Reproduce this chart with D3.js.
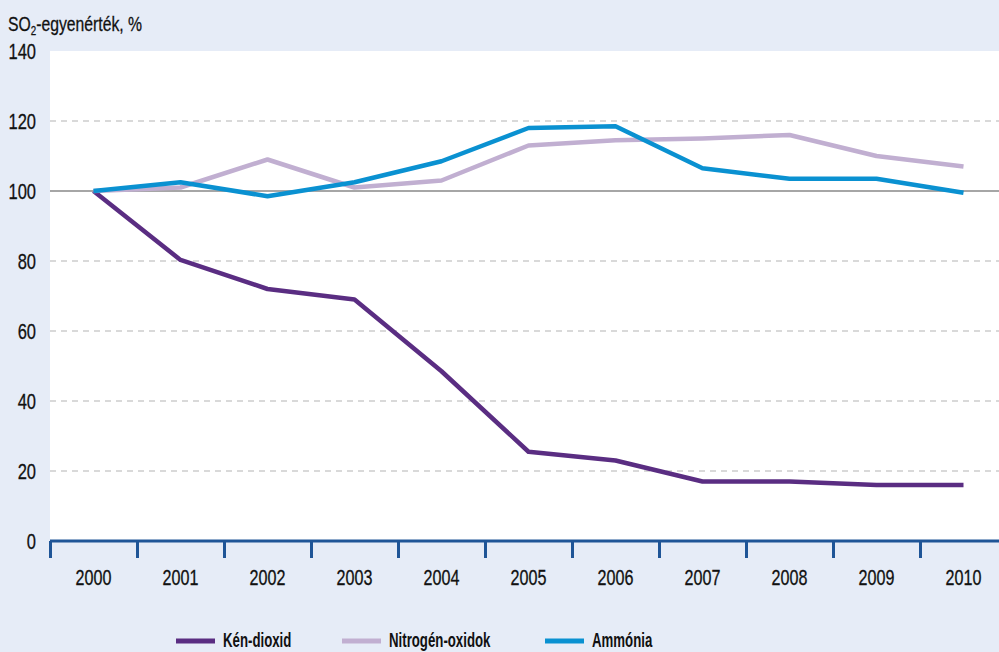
<!DOCTYPE html>
<html>
<head>
<meta charset="utf-8">
<script src="https://cdn.jsdelivr.net/npm/d3@7"></script>
<style>
  body { margin: 0; background: #e6ecf7; }
  svg { display: block; font-family: "Liberation Sans", Arial, sans-serif; }
</style>
</head>
<body>
<svg></svg>
<script>
const years = ['2000', '2001', '2002', '2003', '2004', '2005', '2006', '2007', '2008', '2009', '2010'];
const kenDioxid = [100, 80.3, 72, 69, 48.5, 25.5, 23, 17, 17, 16, 16];
const nitrogenOxidok = [100, 101, 109, 101, 103, 113, 114.5, 115, 116, 110, 107];
const ammonia = [100, 102.5, 98.5, 102.5, 108.5, 118, 118.5, 106.5, 103.5, 103.5, 99.5];
const yTicks = [0, 20, 40, 60, 80, 100, 120, 140];

const width = 999;
const height = 652;
const narrow = 0.75;   // fake the condensed face
const narrowBold = 0.63;

const series = [
    { name: 'Kén-dioxid', values: kenDioxid, color: '#5a2d82' },
    { name: 'Nitrogén-oxidok', values: nitrogenOxidok, color: '#c1afd1' },
    { name: 'Ammónia', values: ammonia, color: '#0a91d1' }
];

const svg = d3.select('svg')
    .attr('width', width)
    .attr('height', height);

const x = d3.scaleBand()
    .domain(years)
    .range([50, 1007]);

const y = d3.scaleLinear()
    .domain([0, 140])
    .range([541, 51]);

function place(px, py, s) {
    return `translate(${px}, ${py}) scale(${s}, 1)`;
}

// plot background
svg.append('rect')
    .attr('x', 50)
    .attr('y', y(140))
    .attr('width', width - 50)
    .attr('height', y(0) - y(140))
    .attr('fill', '#fff');

// grid
svg.append('g')
    .selectAll('line')
    .data(yTicks.filter(function(d) { return d > 0 && d < 140 }))
    .enter().append('line')
    .attr('x1', 50)
    .attr('x2', width)
    .attr('y1', function(d) { return y(d) })
    .attr('y2', function(d) { return y(d) })
    .attr('stroke', function(d) { return d === 100 ? '#a6a6a6' : '#b3b3b3' })
    .attr('stroke-width', function(d) { return d === 100 ? 2 : 1.2 })
    .attr('stroke-dasharray', function(d) { return d === 100 ? null : '6,5' });

// y labels
svg.append('g')
    .selectAll('text')
    .data(yTicks)
    .enter().append('text')
    .attr('transform', function(d) { return place(36, y(d) + 8, narrow) })
    .attr('text-anchor', 'end')
    .attr('font-size', 22)
    .attr('fill', '#111')
    .attr('stroke', '#111')
    .attr('stroke-width', 0.3)
    .text(function(d) { return d });

// y title
const title = svg.append('text')
    .attr('transform', place(8, 31, narrow))
    .attr('font-size', 21)
    .attr('fill', '#111')
    .attr('stroke', '#111')
    .attr('stroke-width', 0.3);
title.append('tspan').text('SO');
title.append('tspan').attr('font-size', 13).attr('dy', 4).text('2');
title.append('tspan').attr('dy', -4).text('-egyenérték, %');

// x axis
const axisG = svg.append('g')
    .attr('transform', `translate(0, ${y(0)})`);

axisG.append('line')
    .attr('x1', 50)
    .attr('x2', width)
    .attr('stroke', '#1f5597')
    .attr('stroke-width', 3);

axisG.selectAll('.tick-mark')
    .data(years)
    .enter().append('line')
    .attr('class', 'tick-mark')
    .attr('x1', function(d) { return x(d) + 0.5 })
    .attr('x2', function(d) { return x(d) + 0.5 })
    .attr('y1', 0)
    .attr('y2', 17)
    .attr('stroke', '#1f5597')
    .attr('stroke-width', 3);

axisG.selectAll('.year')
    .data(years)
    .enter().append('text')
    .attr('class', 'year')
    .attr('transform', function(d) { return place(x(d) + x.bandwidth() / 2, 44, narrow) })
    .attr('text-anchor', 'middle')
    .attr('font-size', 21.5)
    .attr('fill', '#111')
    .attr('stroke', '#111')
    .attr('stroke-width', 0.3)
    .text(function(d) { return d });

// lines
const line = d3.line()
    .x(function(d, i) { return x(years[i]) + x.bandwidth() / 2 })
    .y(function(d) { return y(d) });

svg.append('g')
    .selectAll('path')
    .data(series)
    .enter().append('path')
    .attr('d', function(d) { return line(d.values) })
    .attr('fill', 'none')
    .attr('stroke', function(d) { return d.color })
    .attr('stroke-width', 4.5)
    .attr('stroke-linejoin', 'round');

// legend
const legendX = [176, 342, 545];
const legend = svg.append('g')
    .selectAll('g')
    .data(series)
    .enter().append('g')
    .attr('transform', function(d, i) { return `translate(${legendX[i]}, 641)` });

legend.append('line')
    .attr('x1', 0)
    .attr('x2', 39)
    .attr('stroke', function(d) { return d.color })
    .attr('stroke-width', 5);

legend.append('text')
    .attr('transform', place(47, 5.5, narrowBold))
    .attr('font-size', 21)
    .attr('font-weight', 'bold')
    .attr('fill', '#111')
    .text(function(d) { return d.name });
</script>
</body>
</html>
